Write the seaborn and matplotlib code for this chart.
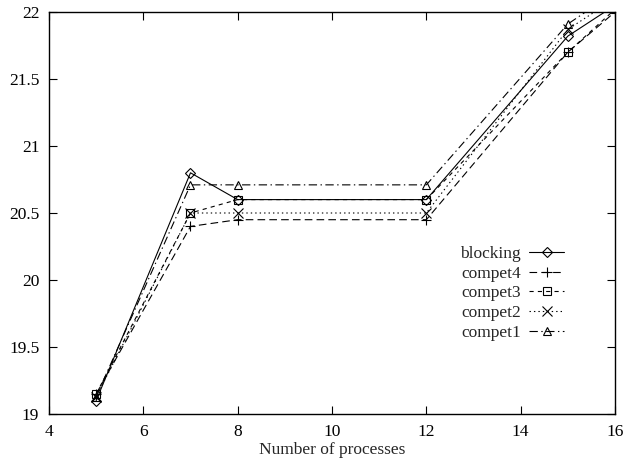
import numpy as np
import pandas as pd
import matplotlib
matplotlib.use("Agg")
import matplotlib.pyplot as plt
import seaborn as sns
from matplotlib.ticker import FuncFormatter

# ---- data ----
processes = [5, 7, 8, 12, 15, 16]
blocking = [19.10, 20.80, 20.60, 20.60, 21.82, 22.05]
compet4 = [19.15, 20.40, 20.45, 20.45, 21.70, 22.00]
compet3 = [19.15, 20.50, 20.60, 20.60, 21.70, 22.02]
compet2 = [19.13, 20.50, 20.50, 20.50, 21.87, 22.10]
compet1 = [19.13, 20.71, 20.71, 20.71, 21.91, 22.15]
series_names = ["blocking", "compet4", "compet3", "compet2", "compet1"]
x_ticks = [4, 6, 8, 10, 12, 14, 16]
y_ticks = [19, 19.5, 20, 20.5, 21, 21.5, 22]

sns.set_style("white")
plt.rcParams["font.family"] = ["Liberation Serif", "DejaVu Serif"]
plt.rcParams["lines.scale_dashes"] = False

fig = plt.figure(figsize=(6.24, 4.61), dpi=100)
ax = fig.add_axes([49 / 624, 1 - 414 / 461, (615 - 49) / 624, (414 - 12) / 461])

values = {"blocking": blocking, "compet4": compet4, "compet3": compet3,
          "compet2": compet2, "compet1": compet1}
styles = {
    "blocking": dict(marker="D", ls="-", ms=5.0),
    "compet4": dict(marker="+", ls=(0, (5.5, 3.0)), ms=7.5),
    "compet3": dict(marker="s", ls=(0, (3.0, 3.0)), ms=6.0),
    "compet2": dict(marker="x", ls=(0, (1.0, 2.2)), ms=6.5),
    "compet1": dict(marker="^", ls=(0, (6.0, 2.5, 1.0, 2.5)), ms=6.0),
}

for name in series_names:
    df = pd.DataFrame({"x": processes, "y": values[name]})
    st = styles[name]
    sns.lineplot(data=df, x="x", y="y", ax=ax, color="black", linewidth=0.8,
                 linestyle=st["ls"], marker=st["marker"], markersize=st["ms"],
                 markerfacecolor="none", markeredgecolor="black",
                 markeredgewidth=0.8, label=name, legend=False)

FS = 12.5
ax.set_xlim(4, 16)
ax.set_ylim(19, 22)
ax.set_xticks(x_ticks)
ax.set_yticks(y_ticks)
ax.yaxis.set_major_formatter(FuncFormatter(lambda v, p: "%g" % v))
ax.tick_params(direction="in", length=6, width=0.8, top=True, right=True,
               bottom=True, left=True, labelsize=FS, pad=7, colors="black")
for s in ax.spines.values():
    s.set_visible(True)
    s.set_color("black")
    s.set_linewidth(1.0)
ax.set_xlabel("Number of processes", fontsize=FS, labelpad=1.5)
ax.set_ylabel("")

handles, labels = ax.get_legend_handles_labels()
ax.legend(handles, labels, loc="upper right", bbox_to_anchor=(0.91, 0.418),
          markerfirst=False, frameon=False, fontsize=FS, handlelength=2.0,
          labelspacing=0.2, handletextpad=0.5, borderpad=0, borderaxespad=0)

fig.savefig("out.png", dpi=100)
